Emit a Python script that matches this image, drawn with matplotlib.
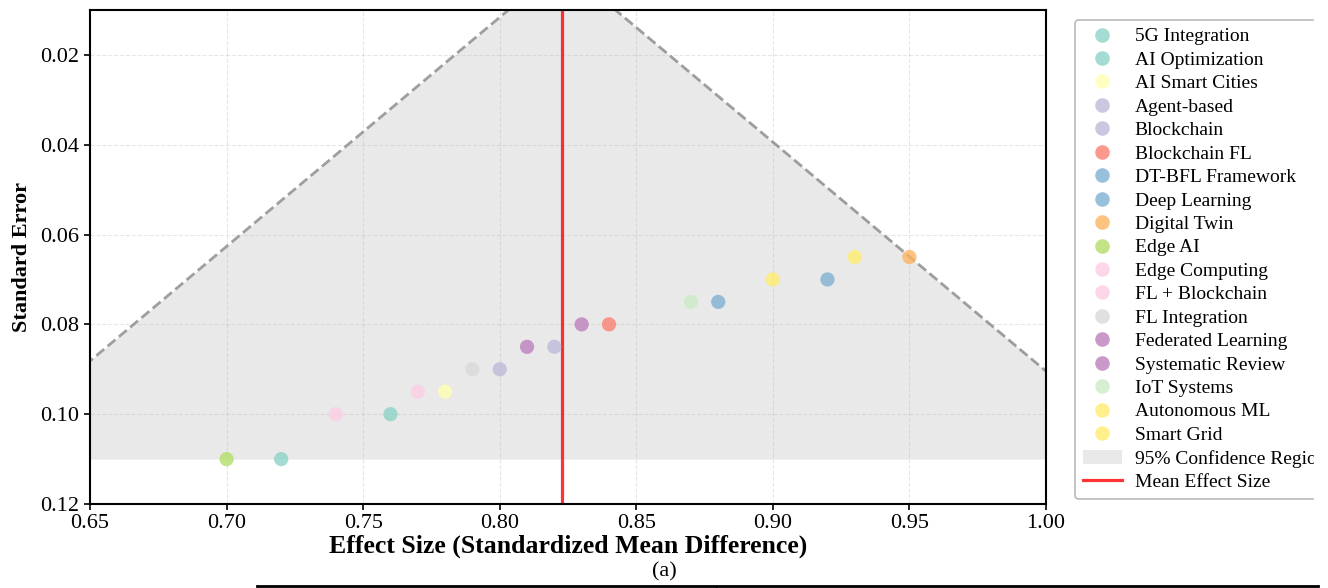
import numpy as np
import matplotlib
matplotlib.use('Agg')
import matplotlib.pyplot as plt
from matplotlib.lines import Line2D
from matplotlib.patches import Patch, Rectangle

# Study categories, effect sizes and standard errors
categories = ['5G Integration', 'AI Optimization', 'AI Smart Cities', 'Agent-based',
              'Blockchain', 'Blockchain FL', 'DT-BFL Framework', 'Deep Learning',
              'Digital Twin', 'Edge AI', 'Edge Computing', 'FL + Blockchain',
              'FL Integration', 'Federated Learning', 'Systematic Review',
              'IoT Systems', 'Autonomous ML', 'Smart Grid']
effect_sizes = [0.72, 0.76, 0.78, 0.80, 0.82, 0.84, 0.88, 0.92, 0.95,
                0.70, 0.74, 0.77, 0.79, 0.81, 0.83, 0.87, 0.90, 0.93]
std_errors = [0.110, 0.100, 0.095, 0.090, 0.085, 0.080, 0.075, 0.070, 0.065,
              0.110, 0.100, 0.095, 0.090, 0.085, 0.080, 0.075, 0.070, 0.065]

plt.rcParams['font.family'] = ['Liberation Serif', 'DejaVu Serif']

fig = plt.figure(figsize=(13.28, 5.88), dpi=100)
ax = fig.add_axes([90 / 1328, 1 - 504 / 588, 956 / 1328, 494 / 588])

es = np.array(effect_sizes)
se = np.array(std_errors)
mean_es = es.mean()

# funnel boundaries (95% CI around the mean)
se_range = np.linspace(0, se.max(), 100)
lower = mean_es - 1.96 * se_range
upper = mean_es + 1.96 * se_range
ax.fill_betweenx(se_range, lower, upper, color='gray', alpha=0.17, linewidth=0)
ax.plot(lower, se_range, '--', color='gray', alpha=0.75, linewidth=2.0)
ax.plot(upper, se_range, '--', color='gray', alpha=0.75, linewidth=2.0)

colors = plt.cm.Set3(np.linspace(0, 1, len(categories)))
for i, cat in enumerate(categories):
    ax.scatter(es[i], se[i], s=105, color=colors[i], alpha=0.8,
               edgecolors='none', zorder=3)

ax.axvline(mean_es, color='red', alpha=0.8, linewidth=2.3, zorder=2)

ax.set_xlim(0.65, 1.0)
ax.set_ylim(0.12, 0.01)
ax.set_yticks([0.02, 0.04, 0.06, 0.08, 0.10, 0.12])
ax.set_xlabel('Effect Size (Standardized Mean Difference)', fontsize=18.5,
              fontweight='bold', labelpad=1)
ax.set_ylabel('Standard Error', fontsize=16, fontweight='bold', labelpad=6)
ax.tick_params(labelsize=16, width=1.2, length=4)
ax.grid(True, linestyle='--', alpha=0.3)
for sp in ax.spines.values():
    sp.set_linewidth(1.5)

handles = [Line2D([], [], marker='o', linestyle='none', markersize=10.5,
                  markerfacecolor=colors[i], markeredgecolor='none', alpha=0.8)
           for i in range(len(categories))]
labels = list(categories)
handles.append(Patch(facecolor='gray', alpha=0.17))
labels.append('95% Confidence Region')
handles.append(Line2D([], [], color='red', alpha=0.8, linewidth=2.3))
labels.append('Mean Effect Size')
leg = fig.legend(handles, labels, loc='upper left',
                 bbox_to_anchor=(1075 / 1328, 1 - 20 / 588), fontsize=14,
                 labelspacing=0.3, handletextpad=0.68, borderpad=0.4,
                 borderaxespad=0, frameon=True, fancybox=True)
leg.get_frame().set_edgecolor('#a8a8a8')
leg.get_frame().set_linewidth(1.2)

# page margin: the legend runs off the right edge of the panel
fig.add_artist(Rectangle((1314 / 1328, 0), 14 / 1328, 1, color='white',
                         transform=fig.transFigure, zorder=10))

fig.text(664 / 1328, 1 - 572 / 588, '(a)', ha='center', va='center', fontsize=16)
fig.add_artist(Line2D([257 / 1328, 1318 / 1328], [1 - 586 / 588] * 2,
                      color='black', linewidth=2.0, transform=fig.transFigure,
                      zorder=11))
fig.add_artist(Line2D([716 / 1328, 716 / 1328], [1 - 586 / 588, 0],
                      color='black', linewidth=1.0, transform=fig.transFigure))

fig.savefig('out.png', dpi=100)
